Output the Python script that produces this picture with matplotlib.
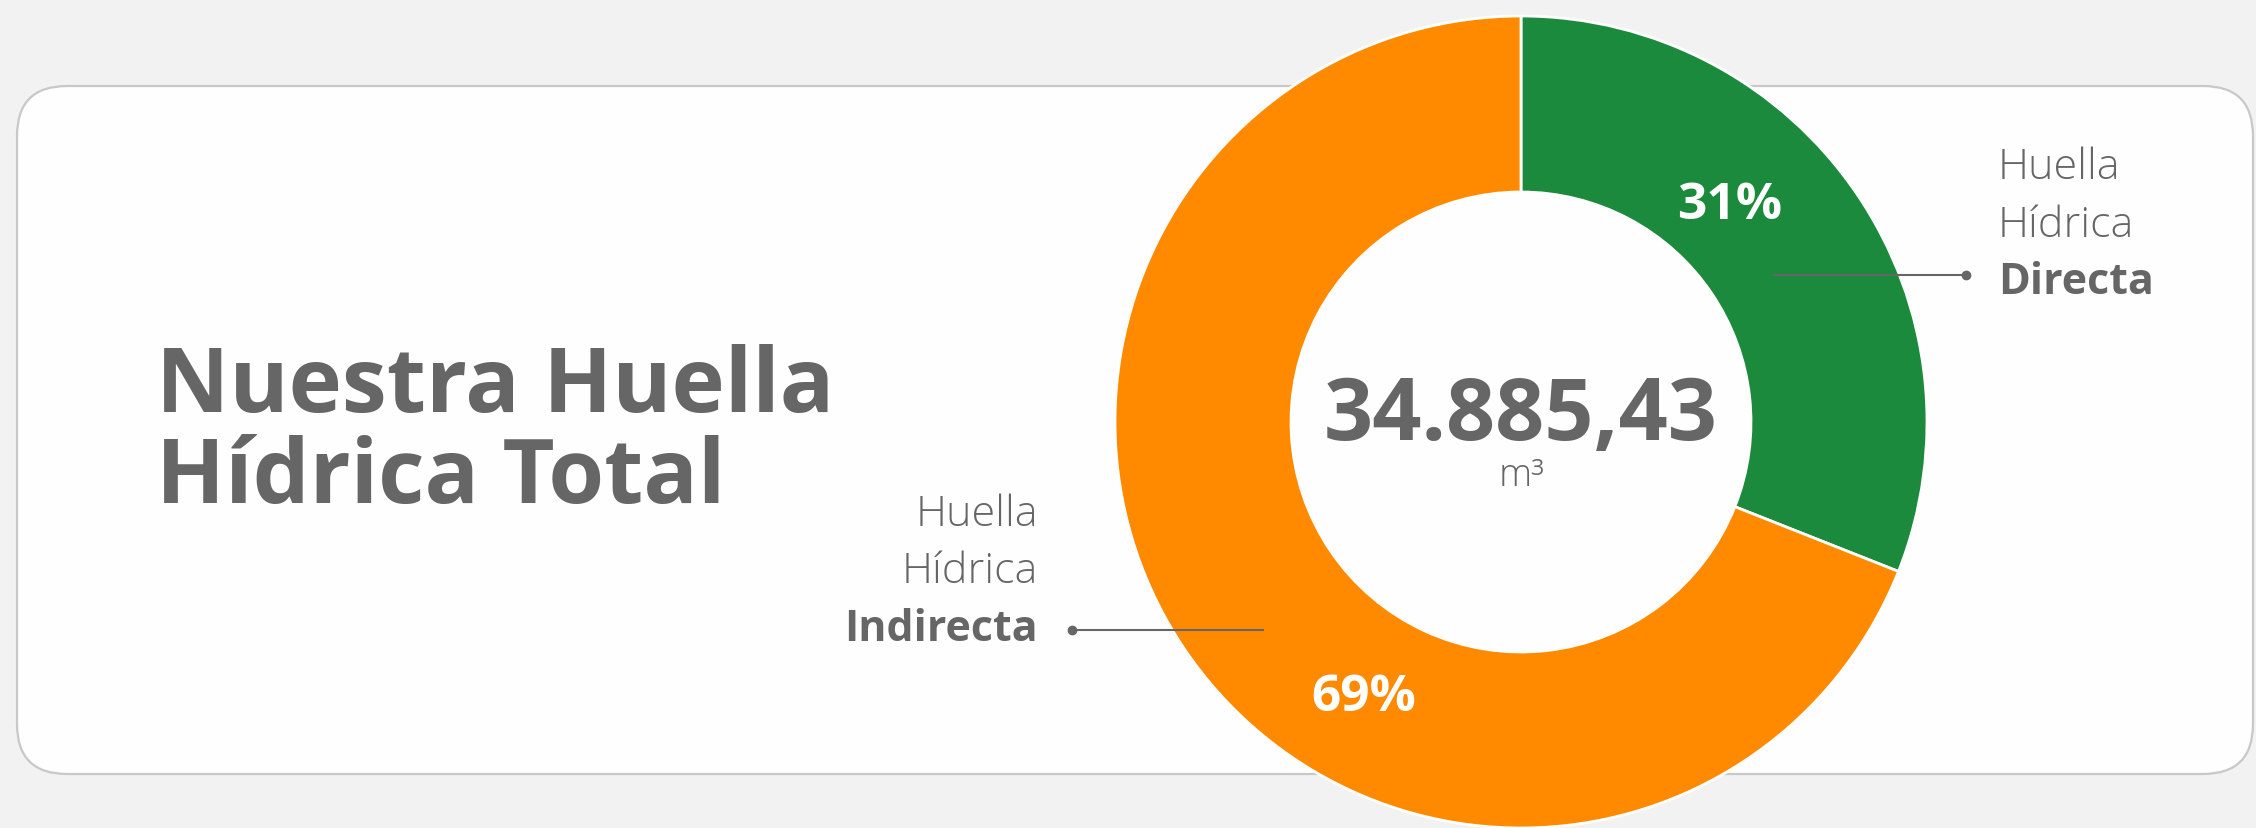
import matplotlib
matplotlib.use("Agg")
import matplotlib.pyplot as plt
from matplotlib.patches import FancyBboxPatch

# data
categories = ["Directa", "Indirecta"]
shares = [31, 69]
colors = ["#1C8A3C", "#FF8A00"]
total_label = "34.885,43"
unit_label = "m\u00b3"
title_lines = ["Nuestra Huella", "H\u00eddrica Total"]

W, H = 2256, 829
GREY = "#666666"
FONT = "Open Sans"

fig = plt.figure(figsize=(W / 100, H / 100), dpi=100, facecolor="#F2F2F2")
ax = fig.add_axes([0, 0, 1, 1])
ax.set_facecolor("#F2F2F2")

# white card with rounded corners
card = FancyBboxPatch((17, H - 775), 2236, 688, boxstyle="round,pad=0,rounding_size=50",
                      fc="#FEFEFE", ec="#C8C8C8", lw=1.6, zorder=1)
ax.add_patch(card)

# donut
cx, cy = 1521, H - 423
r_out, r_in = 406, 230
wedges, _ = ax.pie(shares, colors=colors, startangle=90, counterclock=False,
                   radius=r_out, center=(cx, cy),
                   wedgeprops=dict(width=r_out - r_in, edgecolor="white", linewidth=2))
for w in wedges:
    w.set_zorder(2)

ax.set_xlim(0, W)
ax.set_ylim(0, H)
ax.set_aspect("auto")
ax.axis("off")

# percentages
ax.text(1730, H - 219, f"{shares[0]}%", ha="center", va="baseline", color="white",
        fontsize=37, fontweight="bold", family=FONT, zorder=4)
ax.text(1364, H - 711, f"{shares[1]}%", ha="center", va="baseline", color="white",
        fontsize=37, fontweight="bold", family=FONT, zorder=4)

# total in the middle
ax.text(cx, H - 440, total_label, ha="center", va="baseline", color=GREY,
        fontsize=62, fontweight="bold", family=FONT, zorder=4)
ax.text(cx, H - 486, unit_label, ha="center", va="baseline", color=GREY,
        fontsize=27, fontweight="light", family=FONT, zorder=4)

# title
ax.text(156, H - 412, title_lines[0], ha="left", va="baseline", color=GREY,
        fontsize=65, fontweight="bold", family=FONT, zorder=4)
ax.text(156, H - 503, title_lines[1], ha="left", va="baseline", color=GREY,
        fontsize=65, fontweight="bold", family=FONT, zorder=4)

# label: direct
ax.text(1998, H - 179, "Huella", ha="left", va="baseline", color=GREY, fontsize=31,
        fontweight="light", family=FONT, zorder=4)
ax.text(1998, H - 237, "H\u00eddrica", ha="left", va="baseline", color=GREY, fontsize=31,
        fontweight="light", family=FONT, zorder=4)
ax.text(1998, H - 294, categories[0], ha="left", va="baseline", color=GREY, fontsize=31,
        fontweight="bold", family=FONT, zorder=4)
ax.plot([1774, 1966], [H - 276, H - 276], color=GREY, lw=1.5, zorder=3)
ax.plot([1966], [H - 276], "o", color=GREY, ms=6, zorder=3)

# label: indirect
ax.text(1038, H - 526, "Huella", ha="right", va="baseline", color=GREY, fontsize=31,
        fontweight="light", family=FONT, zorder=4)
ax.text(1038, H - 583, "H\u00eddrica", ha="right", va="baseline", color=GREY, fontsize=31,
        fontweight="light", family=FONT, zorder=4)
ax.text(1038, H - 641, categories[1], ha="right", va="baseline", color=GREY, fontsize=31,
        fontweight="bold", family=FONT, zorder=4)
ax.plot([1072, 1263], [H - 631, H - 631], color=GREY, lw=1.5, zorder=3)
ax.plot([1072], [H - 631], "o", color=GREY, ms=6, zorder=3)

fig.savefig("out.png", dpi=100, facecolor=fig.get_facecolor())
